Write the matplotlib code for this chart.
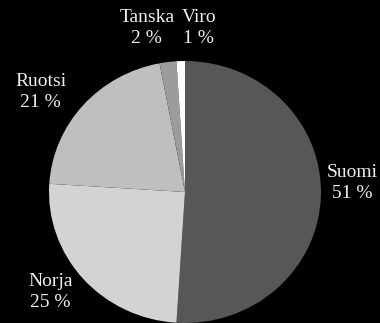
import matplotlib
matplotlib.use("Agg")
import matplotlib.pyplot as plt

# share of visitors by country
countries = ["Suomi", "Norja", "Ruotsi", "Tanska", "Viro"]
shares = [51, 25, 21, 2, 1]
colors = ["#575757", "#d3d3d3", "#bfbfbf", "#9c9c9c", "#ffffff"]

# label centres in axes data units (pie radius = 1)
label_pos = [(1.23, 0.07), (-0.99, -0.76), (-1.06, 0.76), (-0.28, 1.25), (0.10, 1.25)]

plt.rcParams["font.family"] = ["Liberation Serif", "DejaVu Serif"]

fig = plt.figure(figsize=(3.8, 3.23), dpi=100, facecolor="black")
ax = fig.add_axes([49 / 380, 0.0, 272 / 380, 262 / 323])
ax.set_facecolor("black")

ax.pie(shares, colors=colors, startangle=90, counterclock=False,
       wedgeprops=dict(linewidth=0))
ax.set_aspect("auto")
ax.set_xlim(-1, 1)
ax.set_ylim(-1, 1)

for name, val, (x, y) in zip(countries, shares, label_pos):
    ax.text(x, y, f"{name}\n{val} %", ha="center", va="center",
            color="#eeeeee", fontsize=14, linespacing=1.3, clip_on=False)

fig.savefig("out.png", dpi=100, facecolor="black")
plt.close(fig)
